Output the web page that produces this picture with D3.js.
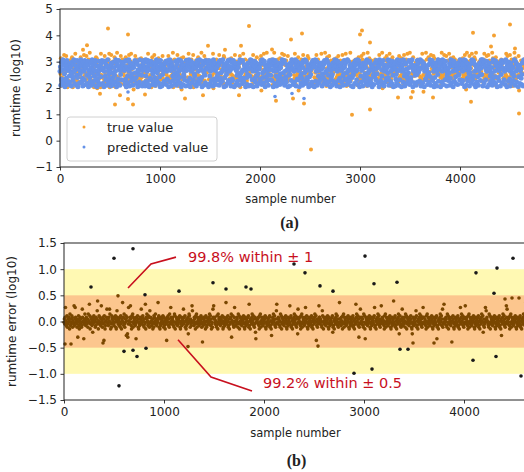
<!DOCTYPE html>
<html>
<head>
<meta charset="utf-8">
<script src="https://cdn.jsdelivr.net/npm/d3@7"></script>
<style>
  body { margin: 0; background: #fff; }
  svg text { font-family: "DejaVu Sans", sans-serif; fill: #222; }
</style>
</head>
<body>
<div id="chart"></div>
<script>
// values are quantised: one character per sample, index into levelChars
var levelChars = '0123456789abcdefghijklmnopqrstuvwxyz';
var sampleSpan = [0, 4640];

// (a) predicted runtime (log10)
var predRange = [2.05, 3.07];
var predCodes = [
  'kq2wa7mzt5xh0rnb8yvl3soe6upj1wid9tzk4mxr2fyc0nqv5lh',
  'zr6tb1wmk9yq3ouf4xs0lhc7vn2pzi5tme8wy1kr0ag6qxl3sdvo',
  'ym4ox0kwe9tr2qz7lhb5ns1vu8ic3wpf6kzx0rta4yqm2lgo9vws',
  'tw8ln3ya0qxe5mzk1rvd7ohs2upb9yixc4wt0mkg6zr3qnf1lvy5',
  'qo1ze7wk4yrm0tab9xsl3hn6vpc2ukz8iwq5mxd0yrt1ng4ls7ov',
  'vx3ka9ym0trz6lw1qse8onh4bxp2iuf7zkmc5yq0wtr3lgd9sn1y',
  'ly7rw2zqb0mxk5tnv9ohe3sp1uy6wka4zr8mqc0xtl2ivf5yon3w',
  'ns0yqe4kx8rwm1zta6vl3opd9hus2xyb5iwk7zmq0tcr1lgv4ny8',
  'rk5zm1xwa8qyt0osv3lnf7hpu2wzd9ixk4ymb6trq0lsc3gvn1oe',
  'wz2qy9tk0mrxb6lve1soh4npa8uwy3zic5kxt0mqd7rlg2vny9sf',
  'mx8tz0wkq4yre1lsc7vno3hpb9uzw5ixy2kda6tmr0qfl1gvs8nz',
  'oy3wk6mzt1rxa9qls0vne5hub2pyw7izk4xmc8tr0qdl3gnv6sy1',
  'tq0xz7ykm2wre5lob9svn1hpc4uyw8ikz3xmf6tqr0lad2gvn7so',
  'zw4ry1kxm8tqb0osl6vne2hyp9uwa3izk5xmd7rtq1lcf0gvn4sy',
  'kx9mz3wyt0rqe6lsn1vob8hup4yzc2iwk7xma5tr0qlf3gdvn9yo',
  'hu5rq0zxv8wme3tyl1ok6snb9pizc2wyr7kt4mxf0qsv1nag5lz',
  'xs2lw9yqo0rkt6zme1vhu4ndb8iyp3xwc7tzr0mkq5lfs2ogy6vj',
  'pm7zy1oxw5rvt0kqa9lne3shi6uzd2wxy8rtk0mc4vqs1lgz7ny',
  'yv0wr6kzq3mts9xlo1ehn8piu2bzw5yrk0tx7qmd4lsn3vfgo9zy',
  'sn4xk8rwz0tym2qvb7lph1oiu5czw9yxe3kt0rm6ndq2lsvf8ozg',
  'uz1ty5wqr9mxk0ons3vle7ihp2azw6ykd4xrt0mqc8lnv1sgy5ow',
  'ow9kx3zym0rtq7wla1vsn5hip8ezy2xku6tmr0dqs4lnb3gvw1yz'
].join('');

// (a) true runtime (log10)
var trueRange = [1.86, 3.34];
var trueCodes = [
  'mgu5kd9rgoxsph7wcl4qaj6snf9ntve4lb8ohyqica7krmgn9dvp',
  'r7kai5xeognbw8chqt7fz6dlik6aom4sh8evpu3bjgh7cn4yfrkm',
  'kc9swhea8mqdb7ty4fgnx6lbrh5cvpi4eazo6dk8sjbw7gmtlqhi',
  'e9nv4bc7ohfx5adry9kcmg2be8wqsd9tifb6ljcaukdpgmrhnls',
  'a6th8cybd5qfmk4ev8garxcl5ob7ndhuea6sfbj7pwci9hmrokg',
  'f8ckwd9mabe5sqhz4ecti7bofrxa5dlgn7cu2ebkv6dhpmsjotq',
  'd5yoca7gftb6mx4edlk7sabhfv9cqepr8zdbni9fwagmtkhlrso',
  'b7ired6qcfy3akhm8btgdec6lxapfs8kobd6wv7cenhqmirtjgl',
  'c9guaf8ebpldx5kcri6befmaw4sdhq7cybo9etgn8afkrmslhjq',
  'kek7bxdc9msfa5vheg9bpctdw1aofkry7ceibgz9dlmhqonrstj',
  'e6pacz7bfqhdk8tmeacu7lbfygd9rxcoaesi9bwhdkmgnotqlrj',
  'a8fcyo7demgbv1krea7cthqfx9bleidn8cswgu7fkmhnjorslqp',
  'd7hbcx8aetifp8gkdycbom8erfzac5lvbhdqwg9esnkmjrhtolq',
  'b9udafcw7ekgs5bmdxcrfa7hoyd5ebti6kcfzalgpnrmqhjsoti',
  'f6iacv8dgrbewktacymfhbdpo5czealu6fqbsdkgnmrhjtqoli',
  'c8lobxfeag8dz3kmhceubsfwdrap8gyci5btevfhnkmqjoslgrt',
  'a9wdcnefubgk6dxrbcotafyehbmdz7csagl0vfenkmqhjrotgsi',
  'e7bqdmcyaf0rkhbezdtgacvfobiexdlcsawgunmkqjhrotsglpi',
  'd6fzcaepbxgrckwdhfsabyeocudmfigvabetnhkmqjlrosgtip',
  'b8kcufadmxeh2bzcrfqdwagsleycbiofvdtczgnkmhjqrolspit',
  'f9aetycbkgdwfmbxesch7aqdzguf6lolevckdrnmhjqisgtopkl',
  'c7sdbgfyeawmck7dxhbftar5eogzcubldqekfw1nmhjsiqlgrot'
].join('');

// points outside the coded ranges: [sample, value]
var trueOutliers = [
  [230, 3.45], [270, 3.62], [480, 4.26], [680, 4.03], [1480, 3.6], [1650, 3.45],
  [1810, 3.6], [1890, 4.35], [2120, 3.46], [2310, 3.84], [2420, 4.07], [3000, 4.03],
  [3020, 4.18], [3100, 3.73], [4130, 4.1], [4310, 3.58], [4340, 3.99], [4500, 4.41],
  [4550, 3.5], [400, 1.78], [550, 1.37], [600, 1.72], [680, 1.58], [730, 1.37],
  [850, 1.75], [1250, 1.6], [1430, 1.72], [1790, 1.72], [2160, 1.52], [2330, 1.6],
  [2440, 1.41], [2510, -0.34], [2920, 0.98], [3100, 1.18], [3380, 1.64], [3510, 1.64],
  [3730, 1.64], [4110, 1.48], [4590, 1.03]
];
var predOutliers = [[680, 1.85], [2150, 1.68], [2320, 1.79], [2440, 1.6]];

// (b) prediction error (log10)
var errRange = [-0.55, 0.55];
var errCodes = [
  'hjgkqifhlegjhkidmfhgjlkeihgrfjqkhigej8hlfdikgjhefpkhi7gjmh',
  'fikhgjemhisldgkjhfibgkljhiefkhjougdilhkgfjrhiekgj6lhdfihkp',
  'jhgfkipmhdgeljkihgfkhjlediokhgjifhkelgdjithkfmgejhl9ika8gq',
  'ighkrjfdlhmekgijhfg7khiljedhgfkjipghklifjehgsdkjmhiflgkeoh',
  'khifgjdhelkgimhjfgihtklejdgfhkijhlgekfidhjg6ikhlfjemghqki',
  'gjkifhemldhgkjifhgjkiledhgkfijhpgkhleidfjhgkaimlhejgfiroh',
  'hifkjgdlhmegkijhfghkiljeg5hfkjihgdlkefihjgkhmilfjdghepkrj',
  'jkghifelhdmgjkihfjgkhlidegkhfjitgkhilefjdhgkjm8hilgfekqhi',
  'fhikjgemhldgkihjfkgihljedgkhfjighklesfidjhgkmihlfjegkb7hj',
  'ihjgkfdlhmeigkjhfgkihjledkghfijhgklefid9hgkjmihlfjegosjh',
  'gkhjifemhldkgjihfgkhiljedghkfijhrgklefidjhgkmihlfjegkap',
  'hjikgfdlhmegkjihfgkqihljedghkfijhgklefidjhgkmihl6fjeghirk',
  'kgjhifeolhdkgijhfkghiljedkghfijhgklbefidjhgkmihlfjeghtj',
  'jhfkigdlhmegkjihfgkhiljedhgkfijhgklefidjhgskmihlfj8egkph',
  'igkhjfemhld7gkjihfgkihljedghkfijhgklqefidjhgkmihlfjeghri',
  'hkjgifdlhmegkijhfgkhiljedhgkfijuhgklefidjhgkmiahlfjegipk',
  'fjhgkiemhldgkjihfgkihljedaghkfijhgkolefidjhgkmihlfjegkqh',
  'khgjifdlhmegkijhfgkhiljedhgkfijhgkl7efidjhgkmihlfjpeghsj',
  'gihkjfemhldgkjihfgk5ihljedghkfijhgklefidjhqgkmihlfjegkhr',
  'hjgkifdlhmegkijhfgkhiljedhgkfijhgklefidjhgkmihlbfjeghqio',
  'jkihgfemhldgkjihfgkihljedghkfijhgklefidj9hgkmihlfjeghrkp',
  'ighjkfdlhmegkijhfgkhiljedhgkfijhgklefidjhgkmihlfjtegk8hq'
].join('');
var errOutliers = [
  [270, 0.66], [500, 1.21], [540, 0.49], [690, 1.39], [810, 0.51], [1150, 0.58],
  [1490, 0.74], [1620, 0.62], [1820, 0.66], [1870, 0.62], [2300, 1.1], [2410, 0.93],
  [2560, 0.68], [2690, 0.58], [3010, 1.25], [3100, 0.72], [3330, 0.75], [4120, 0.93],
  [4300, 0.54], [4330, 1.02], [4490, 1.21], [4410, 0.43], [4480, 0.45], [4550, 0.45],
  [10, -0.43], [70, -0.43], [390, -0.41], [550, -1.23], [600, -0.57], [690, -0.55],
  [730, -0.67], [820, -0.51], [1240, -0.48], [2540, -0.47], [2900, -0.99], [3080, -0.91],
  [3360, -0.53], [3440, -0.53], [3490, -0.41], [3700, -0.41], [4090, -0.74], [4320, -0.67],
  [4570, -1.04]
];

var xTicks = [0, 1000, 2000, 3000, 4000];
var yTicksA = [-1, 0, 1, 2, 3, 4, 5];
var yTicksB = [-1.5, -1, -0.5, 0, 0.5, 1, 1.5];
var bands = [
  {lo: -1, hi: 1, color: '#fff9b3'},
  {lo: -0.5, hi: 0.5, color: '#fcc68e'}
];
var notes = [
  {label: '99.8% within \u00b1 1', path: [[640, 0.64], [870, 1.10], [1120, 1.23]], at: [1240, 1.23]},
  {label: '99.2% within \u00b1 0.5', path: [[1140, -0.35], [1470, -1.06], [1880, -1.33]], at: [1990, -1.18]}
];

function decode(codes, range) {
  var step = (range[1] - range[0]) / (levelChars.length - 1);
  var n = codes.length;
  return codes.split('').map(function(c, i) {
    return [sampleSpan[0] + i * (sampleSpan[1] - sampleSpan[0]) / (n - 1),
            range[0] + levelChars.indexOf(c) * step];
  });
}

var width = 524, height = 472;
var svg = d3.select('#chart').append('svg')
  .attr('width', width)
  .attr('height', height);

function axes(g, x, y, h, yTicks, fmt) {
  g.append('g')
    .attr('transform', 'translate(0,' + h + ')')
    .call(d3.axisBottom(x).tickValues(xTicks).tickFormat(d3.format('d'))
      .tickSize(3.5).tickPadding(3.5).tickSizeOuter(0));
  g.append('g')
    .call(d3.axisLeft(y).tickValues(yTicks).tickFormat(fmt).tickSize(3.5).tickPadding(3.5).tickSizeOuter(0));
  g.selectAll('.domain').remove();
  g.selectAll('.tick line').attr('stroke', '#222').attr('stroke-width', 0.9);
  g.selectAll('.tick text').attr('font-size', 12).attr('font-family', '"DejaVu Sans", sans-serif').attr('fill', '#222');
}

/* ---------- panel (a) ---------- */
var mA = {left: 60, top: 9, w: 465, h: 158};
var xA = d3.scaleLinear().domain([0, 4650]).range([0, mA.w]);
var yA = d3.scaleLinear().domain([-1, 5]).range([mA.h, 0]);
var gA = svg.append('g').attr('transform', 'translate(' + mA.left + ',' + mA.top + ')');

var trueData = decode(trueCodes, trueRange).concat(trueOutliers);
var predData = decode(predCodes, predRange).concat(predOutliers);

gA.append('g').selectAll('circle')
    .data(trueData)
  .enter().append('circle')
    .attr('cx', function(d) { return xA(d[0]); })
    .attr('cy', function(d) { return yA(d[1]); })
    .attr('r', 2.0)
    .attr('fill', '#f4a133');

gA.append('g').selectAll('circle')
    .data(predData)
  .enter().append('circle')
    .attr('cx', function(d) { return xA(d[0]); })
    .attr('cy', function(d) { return yA(d[1]); })
    .attr('r', function(d) { return d[1] < predRange[0] ? 1.8 : 2.5; })
    .attr('fill', '#6592e8');

axes(gA, xA, yA, mA.h, yTicksA, d3.format('d'));

gA.append('rect')
  .attr('width', mA.w).attr('height', mA.h)
  .attr('fill', 'none').attr('stroke', '#222').attr('stroke-width', 1);

var legend = gA.append('g').attr('transform', 'translate(7,108)');
legend.append('rect')
  .attr('width', 150).attr('height', 44).attr('rx', 3)
  .attr('fill', '#fff').attr('fill-opacity', 0.85)
  .attr('stroke', '#d0d0d0');
[['true value', '#f4a133'], ['predicted value', '#6592e8']].forEach(function(e, i) {
  legend.append('circle').attr('cx', 17).attr('cy', 10 + i * 20).attr('r', 1.5).attr('fill', e[1]);
  legend.append('text').attr('x', 40).attr('y', 10 + i * 20).attr('dy', '0.35em')
    .attr('font-size', 13).text(e[0]);
});

svg.append('text')
  .attr('transform', 'translate(16,' + (mA.top + mA.h / 2) + ') rotate(-90)')
  .attr('text-anchor', 'middle').attr('dy', '0.35em')
  .attr('font-size', 12).text('rumtime (log10)');
svg.append('text')
  .attr('x', mA.left + mA.w / 2 - 2).attr('y', 199).attr('dy', '0.35em')
  .attr('text-anchor', 'middle').attr('font-size', 11.5).text('sample number');
svg.append('text')
  .attr('x', mA.left + mA.w / 2 - 3).attr('y', 222).attr('dy', '0.35em')
  .attr('text-anchor', 'middle').attr('font-size', 16).attr('font-weight', 'bold')
  .style('font-family', '"Liberation Serif", serif').text('(a)');

/* ---------- panel (b) ---------- */
var mB = {left: 64, top: 243, w: 465, h: 157};
var xB = d3.scaleLinear().domain([0, 4650]).range([0, mB.w]);
var yB = d3.scaleLinear().domain([-1.5, 1.5]).range([mB.h, 0]);
var gB = svg.append('g').attr('transform', 'translate(' + mB.left + ',' + mB.top + ')');

gB.selectAll('rect.band')
    .data(bands)
  .enter().append('rect')
    .attr('class', 'band')
    .attr('x', 0).attr('width', mB.w)
    .attr('y', function(d) { return yB(d.hi); })
    .attr('height', function(d) { return yB(d.lo) - yB(d.hi); })
    .attr('fill', function(d) { return d.color; });

var errData = decode(errCodes, errRange).concat(errOutliers);
gB.append('g').selectAll('circle')
    .data(errData)
  .enter().append('circle')
    .attr('cx', function(d) { return xB(d[0]); })
    .attr('cy', function(d) { return yB(d[1]); })
    .attr('r', 1.8)
    .attr('fill', function(d) { return Math.abs(d[1]) > 0.5 ? '#1a1a1a' : '#7a4700'; });

axes(gB, xB, yB, mB.h, yTicksB, d3.format('.1f'));

gB.append('rect')
  .attr('width', mB.w).attr('height', mB.h)
  .attr('fill', 'none').attr('stroke', '#222').attr('stroke-width', 1);

var line = d3.line()
  .x(function(d) { return xB(d[0]); })
  .y(function(d) { return yB(d[1]); });

notes.forEach(function(n) {
  gB.append('path')
    .attr('d', line(n.path))
    .attr('fill', 'none').attr('stroke', '#c8101e').attr('stroke-width', 1.6);
  gB.append('text')
    .attr('x', xB(n.at[0])).attr('y', yB(n.at[1])).attr('dy', '0.35em')
    .attr('font-size', 14.5).style('fill', '#c8101e').text(n.label);
});

svg.append('text')
  .attr('transform', 'translate(12,' + (mB.top + mB.h / 2) + ') rotate(-90)')
  .attr('text-anchor', 'middle').attr('dy', '0.35em')
  .attr('font-size', 12).text('rumtime error (log10)');
svg.append('text')
  .attr('x', mB.left + mB.w / 2 - 1).attr('y', 433).attr('dy', '0.35em')
  .attr('text-anchor', 'middle').attr('font-size', 11.5).text('sample number');
svg.append('text')
  .attr('x', mB.left + mB.w / 2).attr('y', 460).attr('dy', '0.35em')
  .attr('text-anchor', 'middle').attr('font-size', 16).attr('font-weight', 'bold')
  .style('font-family', '"Liberation Serif", serif').text('(b)');
</script>
</body>
</html>
